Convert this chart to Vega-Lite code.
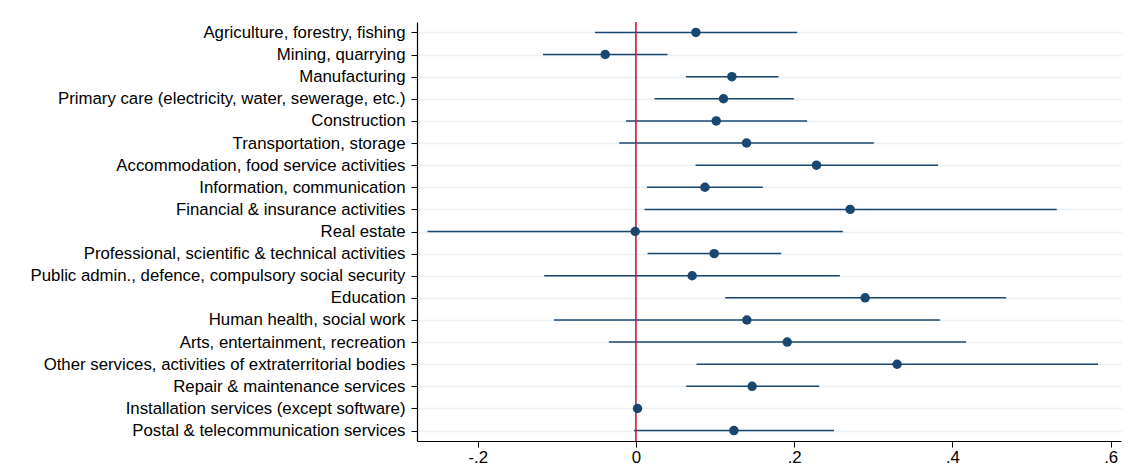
{
  "$schema": "https://vega.github.io/schema/vega-lite/v6.json",
  "autosize": {"type": "none"},
  "width": 704,
  "height": 419,
  "padding": {"left": 417, "top": 22, "right": 9, "bottom": 28},
  "background": "white",
  "config": {
    "view": {"stroke": null},
    "font": "Liberation Sans"
  },
  "datasets": {
    "coef": [
      {"sector": "Agriculture, forestry, fishing", "est": 0.0758, "lo": -0.0518, "hi": 0.2038},
      {"sector": "Mining, quarrying", "est": -0.0388, "lo": -0.1175, "hi": 0.0400},
      {"sector": "Manufacturing", "est": 0.1213, "lo": 0.0632, "hi": 0.1802},
      {"sector": "Primary care (electricity, water, sewerage, etc.)", "est": 0.1107, "lo": 0.0235, "hi": 0.1996},
      {"sector": "Construction", "est": 0.1015, "lo": -0.0126, "hi": 0.2164},
      {"sector": "Transportation, storage", "est": 0.1398, "lo": -0.0211, "hi": 0.3007},
      {"sector": "Accommodation, food service activities", "est": 0.2282, "lo": 0.0753, "hi": 0.3819},
      {"sector": "Information, communication", "est": 0.0872, "lo": 0.0139, "hi": 0.1604},
      {"sector": "Financial & insurance activities", "est": 0.2708, "lo": 0.0109, "hi": 0.5319},
      {"sector": "Real estate", "est": -0.0009, "lo": -0.2633, "hi": 0.2615},
      {"sector": "Professional, scientific & technical activities", "est": 0.0989, "lo": 0.0147, "hi": 0.1836},
      {"sector": "Public admin., defence, compulsory social security", "est": 0.0711, "lo": -0.1159, "hi": 0.2577},
      {"sector": "Education", "est": 0.2897, "lo": 0.1128, "hi": 0.4679},
      {"sector": "Human health, social work", "est": 0.1402, "lo": -0.1036, "hi": 0.3841},
      {"sector": "Arts, entertainment, recreation", "est": 0.1912, "lo": -0.0341, "hi": 0.4173},
      {"sector": "Other services, activities of extraterritorial bodies", "est": 0.3301, "lo": 0.0766, "hi": 0.5841},
      {"sector": "Repair & maintenance services", "est": 0.1469, "lo": 0.0636, "hi": 0.2316},
      {"sector": "Installation services (except software)", "est": 0.0020, "lo": 0.0020, "hi": 0.0020},
      {"sector": "Postal & telecommunication services", "est": 0.1238, "lo": -0.0025, "hi": 0.2505}
    ],
    "ref": [{"zero": 0}]
  },
  "layer": [
    {
      "data": {"name": "coef"},
      "mark": {"type": "rule", "color": "#1a476f", "strokeWidth": 1.5},
      "encoding": {
        "y": {
          "field": "sector",
          "type": "nominal",
          "sort": null,
          "scale": {"type": "point", "padding": 0.47},
          "axis": {
            "title": null,
            "domainColor": "#000000",
            "domainWidth": 1.2,
            "tickColor": "#000000",
            "tickSize": 6,
            "tickWidth": 1,
            "labelFontSize": 16.8,
            "labelColor": "#000000",
            "labelFont": "Liberation Sans",
            "labelPadding": 6,
            "labelLimit": 0,
            "grid": true,
            "gridColor": "#eaf0f3",
            "gridWidth": 1.5
          }
        },
        "x": {
          "field": "lo",
          "type": "quantitative",
          "scale": {"domain": [-0.2767, 0.6131], "nice": false, "zero": false},
          "axis": {
            "title": null,
            "values": [-0.2, 0, 0.2, 0.4, 0.6],
            "labelExpr": "datum.value == 0 ? '0' : (datum.value < 0 ? '-.' + format(-datum.value * 10, 'd') : '.' + format(datum.value * 10, 'd'))",
            "grid": false,
            "domainColor": "#000000",
            "domainWidth": 1.2,
            "tickColor": "#000000",
            "tickSize": 6,
            "labelFontSize": 16.8,
            "labelColor": "#000000",
            "labelFont": "Liberation Sans",
            "labelPadding": 2
          }
        },
        "x2": {"field": "hi"}
      }
    },
    {
      "data": {"name": "ref"},
      "mark": {"type": "rule", "color": "#c8173d", "strokeWidth": 1.6},
      "encoding": {"x": {"field": "zero", "type": "quantitative"}}
    },
    {
      "data": {"name": "coef"},
      "mark": {"type": "point", "filled": true, "shape": "circle", "size": 90, "color": "#1a476f", "opacity": 1},
      "encoding": {
        "x": {"field": "est", "type": "quantitative"},
        "y": {"field": "sector", "type": "nominal", "sort": null}
      }
    }
  ]
}
